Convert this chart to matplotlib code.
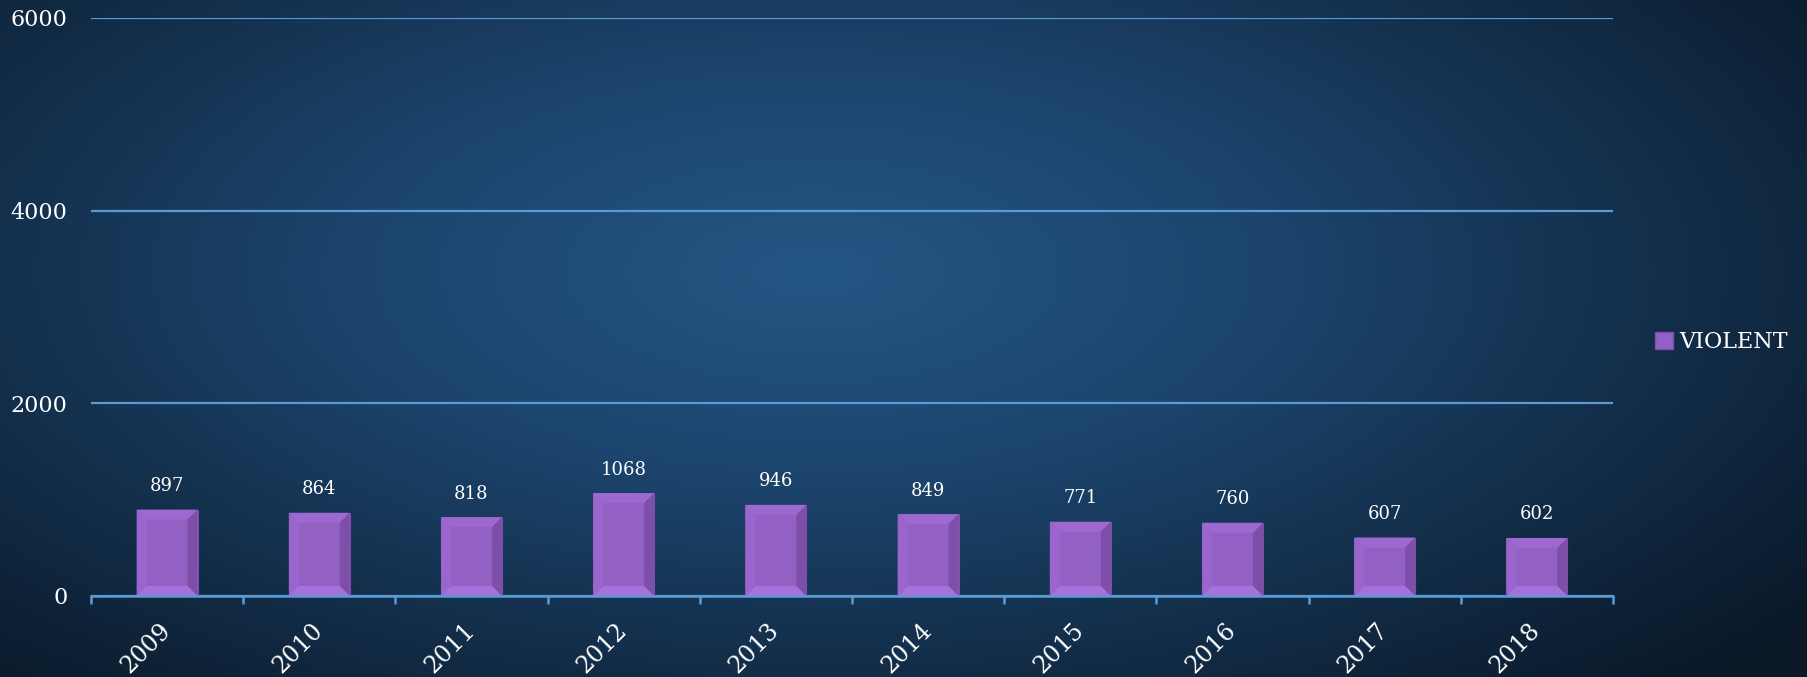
import numpy as np
import matplotlib
matplotlib.use('Agg')
import matplotlib.pyplot as plt
from matplotlib.patches import Polygon, Rectangle
from matplotlib.colors import LinearSegmentedColormap

# data
years = ['2009', '2010', '2011', '2012', '2013', '2014', '2015', '2016', '2017', '2018']
violent = [897, 864, 818, 1068, 946, 849, 771, 760, 607, 602]
yticks = [0, 2000, 4000, 6000]
series_name = 'VIOLENT'

plt.rcParams['font.family'] = ['DejaVu Serif']

W, H = 1808, 677
fig = plt.figure(figsize=(W/100., H/100.), dpi=100)

# dark damask-like background: radial gradient
bg = fig.add_axes([0, 0, 1, 1], zorder=0)
yy, xx = np.mgrid[0:1:300j, 0:1:800j]
d = np.sqrt(((xx-0.45)/0.7)**2 + ((yy-0.6)/0.85)**2)
d = np.clip(d, 0, 1)
cmap = LinearSegmentedColormap.from_list('bgc', ['#245683', '#1d4670', '#132f4b', '#0a1828'])
bg.imshow(d, cmap=cmap, aspect='auto', extent=[0, 1, 0, 1], origin='lower', vmin=0, vmax=1)
bg.axis('off')

ax = fig.add_axes([91/W, 1-596/H, (1613-91)/W, (596-18)/H], zorder=1)
ax.patch.set_alpha(0)

x = np.arange(len(years))
bars = ax.bar(x, violent, width=0.40, color='#9360c3', edgecolor='#7b4fa8', linewidth=0.8, zorder=3)

ax.set_xlim(-0.5, len(years)-0.5)
ax.set_ylim(0, 6000)

# bevel faces on each bar
bx = 10 * (len(years)/1522.)
by = 10 * (6000/578.)
for b in bars:
    x0, y0 = b.get_x(), b.get_y()
    w, h = b.get_width(), b.get_height()
    x1, y1 = x0+w, y0+h
    faces = [
        ([(x0, y1), (x1, y1), (x1-bx, y1-by), (x0+bx, y1-by)], '#9d68cf'),  # top
        ([(x0, y0), (x0+bx, y0+by), (x0+bx, y1-by), (x0, y1)], '#9a65cc'),  # left
        ([(x1, y0), (x1, y1), (x1-bx, y1-by), (x1-bx, y0+by)], '#7d4fa9'),  # right
        ([(x0, y0), (x1, y0), (x1-bx, y0+by), (x0+bx, y0+by)], '#a770da'),  # bottom
    ]
    for pts, c in faces:
        ax.add_patch(Polygon(pts, closed=True, facecolor=c, edgecolor='none', zorder=4))

for xi, v in zip(x, violent):
    ax.annotate(str(v), (xi, v), xytext=(0, 17), textcoords='offset points',
                ha='center', va='center', color='white', fontsize=13, zorder=5)

# grid and axes
line_c = '#5b9bd5'
ax.set_yticks(yticks)
ax.set_yticklabels([str(t) for t in yticks])
ax.yaxis.grid(True, color=line_c, linewidth=1.6, zorder=1)
ax.set_axisbelow(True)
for s in ['top', 'right', 'left']:
    ax.spines[s].set_visible(False)
ax.spines['bottom'].set_color(line_c)
ax.spines['bottom'].set_linewidth(1.8)
ax.spines['bottom'].set_zorder(6)
ax.tick_params(axis='y', length=0, pad=17, labelsize=16, labelcolor='white')

ax.set_xticks(x)
ax.set_xticklabels(years, rotation=45, ha='right', va='center', rotation_mode='anchor')
ax.set_xticks(np.arange(-0.5, len(years)), minor=True)
ax.tick_params(axis='x', which='major', length=0, pad=22, labelsize=17, labelcolor='white')
ax.tick_params(axis='x', which='minor', length=6, width=1.8, color=line_c, direction='out')

# legend
h = Rectangle((0, 0), 1, 1, facecolor='#9360c3', edgecolor='#7b4fa8')
fig.legend([h], [series_name], loc='center left', bbox_to_anchor=(1655/W, 1-342/H),
           frameon=False, fontsize=16, labelcolor='white', handlelength=0.8,
           handleheight=0.8, handletextpad=0.3, borderpad=0, borderaxespad=0)

fig.savefig('out.png', dpi=100)
